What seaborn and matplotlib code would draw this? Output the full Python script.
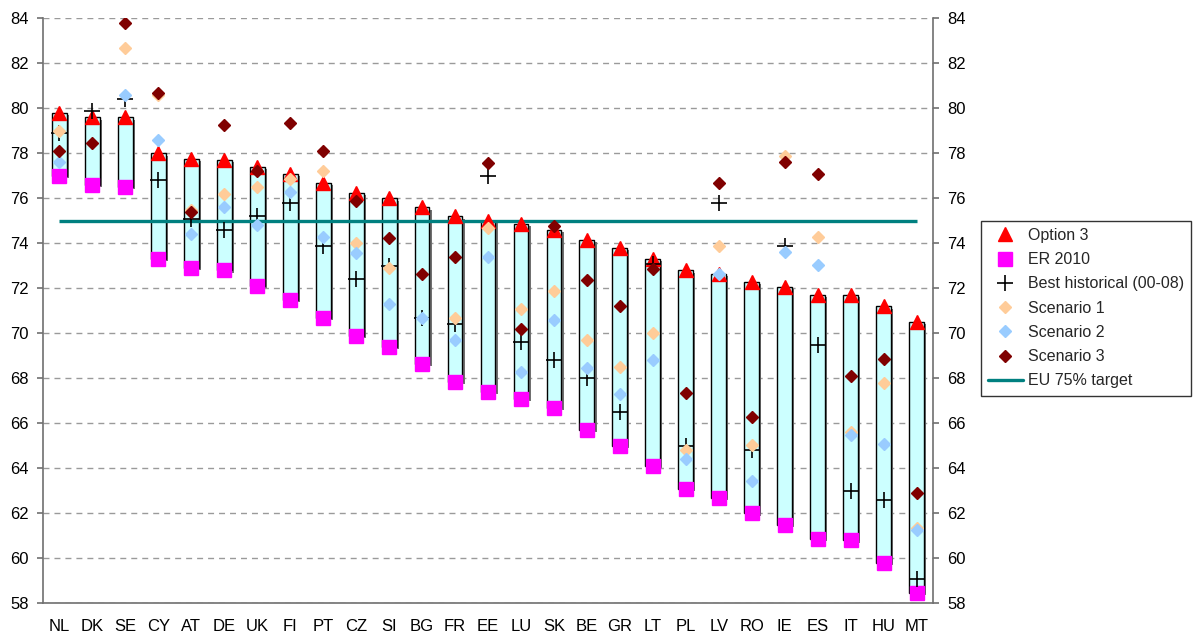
import numpy as np
import pandas as pd
import matplotlib
matplotlib.use("Agg")
import matplotlib.pyplot as plt
import matplotlib.patheffects as pe
from matplotlib.lines import Line2D
import seaborn as sns

nan = np.nan
countries = ["NL", "DK", "SE", "CY", "AT", "DE", "UK", "FI", "PT", "CZ", "SI", "BG", "FR", "EE",
             "LU", "SK", "BE", "GR", "LT", "PL", "LV", "RO", "IE", "ES", "IT", "HU", "MT"]
option3 = [79.8, 79.6, 79.6, 78.0, 77.75, 77.7, 77.4, 77.1, 76.7, 76.25, 76.0, 75.6, 75.2, 75.0,
           74.85, 74.6, 74.15, 73.8, 73.3, 72.8, 72.65, 72.3, 72.05, 71.7, 71.7, 71.2, 70.5]
er2010 = [77.0, 76.6, 76.5, 73.3, 72.9, 72.8, 72.1, 71.5, 70.7, 69.9, 69.4, 68.65, 67.85, 67.4,
          67.1, 66.7, 65.7, 65.0, 64.1, 63.1, 62.7, 62.0, 61.5, 60.85, 60.8, 59.8, 58.45]
best_hist = [78.9, 79.9, 80.4, 76.8, 75.1, 74.6, 75.2, 75.8, 73.9, 72.4, 73.0, 70.7, 70.4, 77.0,
             69.6, 68.8, 68.0, 66.5, 73.1, 65.0, 75.8, 64.8, 73.9, 69.5, 63.0, 62.6, 59.1]
scen1 = [79.0, nan, 82.7, 80.6, 75.5, 76.2, 76.5, 76.85, 77.2, 74.0, 72.9, nan, 70.7, 74.7,
         71.1, 71.9, 69.7, 68.5, 70.0, 64.8, 73.9, 65.05, 77.9, 74.3, 65.6, 67.8, 61.35]
scen2 = [77.6, nan, 80.6, 78.6, 74.4, 75.6, 74.8, 76.3, 74.3, 73.55, 71.3, 70.7, 69.7, 73.4,
         68.3, 70.6, 68.45, 67.3, 68.8, 64.4, 72.65, 63.45, 73.6, 73.05, 65.5, 65.1, 61.25]
scen3 = [78.1, 78.45, 83.8, 80.7, 75.4, 79.25, 77.2, 79.35, 78.1, 75.9, 74.25, 72.65, 73.4, 77.55,
         70.2, 74.75, 72.35, 71.2, 72.85, 67.35, 76.7, 66.3, 77.6, 77.1, 68.1, 68.85, 62.9]
target = 75.0
ytick_vals = list(range(58, 85, 2))

sns.set_theme(style="white")
plt.rcParams["font.family"] = ["Liberation Sans", "DejaVu Sans"]

W, H = 1195, 636
fig, ax = plt.subplots(figsize=(W / 100, H / 100), dpi=100)
fig.subplots_adjust(left=43 / W, right=933 / W, bottom=1 - 603.3 / H, top=1 - 18.3 / H)

n = len(countries)
xpos = np.arange(n)
df = pd.DataFrame({"country": countries,
                   "span": np.array(option3) - np.array(er2010)})

sns.barplot(data=df, x="country", y="span", bottom=er2010, width=0.45,
            color="#CCFFFF", saturation=1, edgecolor="black", linewidth=1.0,
            errorbar=None, ax=ax, zorder=2)
for p in ax.patches:
    p.set_path_effects([pe.SimplePatchShadow(offset=(1.6, -1.6), shadow_rgbFace="#707070", alpha=1.0),
                        pe.Normal()])

ax.plot(xpos, np.full(n, target), color="#008080", lw=2.4, zorder=3, solid_capstyle="butt")

DMS = 6.6
ax.plot(xpos, option3, ls="none", marker="^", ms=10.5, color="#FF0000", mec="#FF0000", zorder=4)
ax.plot(xpos, er2010, ls="none", marker="s", ms=9.5, color="#FF00FF", mec="#FF00FF", zorder=4)
ax.plot(xpos, best_hist, ls="none", marker="+", ms=11, mew=1.2, color="black", zorder=5)
ax.plot(xpos, scen1, ls="none", marker="D", ms=DMS, color="#FFCC99", mec="#FFCC99", zorder=6)
ax.plot(xpos, scen2, ls="none", marker="D", ms=DMS, color="#99CCFF", mec="#99CCFF", zorder=7)
ax.plot(xpos, scen3, ls="none", marker="D", ms=DMS, color="#800000", mec="#800000", zorder=8)

ax.set_xlim(-0.5, n - 0.5)
ax.set_ylim(58, 84)
ax.set_xlabel("")
ax.set_ylabel("")
ax.set_yticks(ytick_vals)
ax.set_yticklabels([str(v) for v in ytick_vals])
ax.set_xticks(xpos)
ax.set_xticklabels(countries)
ax.set_xticks(np.arange(n + 1) - 0.5, minor=True)

spine_col = "#707070"
ax.tick_params(axis="x", which="major", length=0, pad=11, labelsize=12, colors="black")
ax.tick_params(axis="x", which="minor", length=4, width=1.2, color=spine_col, direction="out")
ax.tick_params(axis="y", which="major", length=4, width=1.2, color=spine_col, direction="out",
               pad=6.5, labelsize=12, labelcolor="black", left=True)

ax.set_axisbelow(True)
ax.yaxis.grid(True, color="#9a9a9a", linestyle=(0, (4.3, 3.6)), lw=1.0)
ax.xaxis.grid(False)

for s in ["top", "right"]:
    ax.spines[s].set_visible(False)
for s in ["left", "bottom"]:
    ax.spines[s].set_color(spine_col)
    ax.spines[s].set_linewidth(1.2)

ax2 = ax.twinx()
ax2.set_ylim(58, 84)
ax2.set_yticks(ytick_vals)
ax2.set_yticklabels([str(v) for v in ytick_vals])
ax2.tick_params(axis="y", which="major", length=4, width=1.2, color=spine_col, direction="out",
                pad=6.5, labelsize=12, labelcolor="black", right=True)
for s in ["top", "left", "bottom"]:
    ax2.spines[s].set_visible(False)
ax2.spines["right"].set_color(spine_col)
ax2.spines["right"].set_linewidth(1.2)
ax2.grid(False)

handles = [
    Line2D([], [], ls="none", marker="^", ms=10.5, color="#FF0000"),
    Line2D([], [], ls="none", marker="s", ms=9.5, color="#FF00FF"),
    Line2D([], [], ls="none", marker="+", ms=11, mew=1.2, color="black"),
    Line2D([], [], ls="none", marker="D", ms=DMS, color="#FFCC99"),
    Line2D([], [], ls="none", marker="D", ms=DMS, color="#99CCFF"),
    Line2D([], [], ls="none", marker="D", ms=DMS, color="#800000"),
    Line2D([], [], color="#008080", lw=2.4),
]
labels = ["Option 3", "ER 2010", "Best historical (00-08)", "Scenario 1", "Scenario 2",
          "Scenario 3", "EU 75% target"]
leg = fig.legend(handles, labels, loc="upper left", bbox_to_anchor=(980.7 / W, 1 - 220.7 / H),
                 bbox_transform=fig.transFigure, frameon=True, fancybox=False, shadow=False,
                 fontsize=11.5, handlelength=2.2, handletextpad=0.3, labelspacing=0.58,
                 borderpad=0.45, borderaxespad=0.0)
leg.get_frame().set_edgecolor("black")
leg.get_frame().set_linewidth(1.0)

fig.savefig("out.png", dpi=100)
